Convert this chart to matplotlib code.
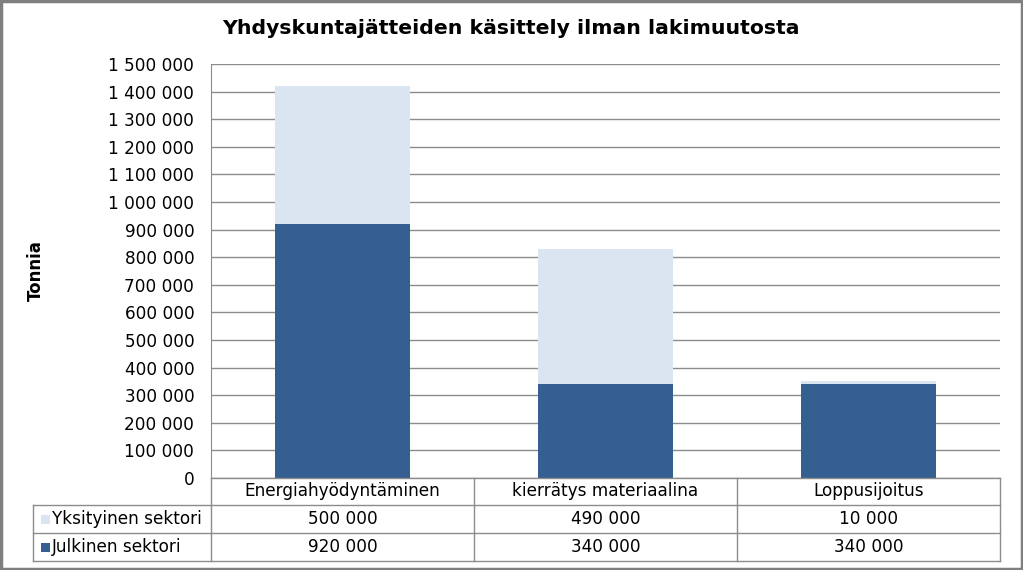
import matplotlib
matplotlib.use("Agg")
import matplotlib.pyplot as plt
from matplotlib.patches import Rectangle
from matplotlib.lines import Line2D
import matplotlib.transforms as mtransforms
from matplotlib.ticker import FuncFormatter, MultipleLocator

categories = ["Energiahyödyntäminen", "kierrätys materiaalina", "Loppusijoitus"]
julkinen = [920000, 340000, 340000]
yksityinen = [500000, 490000, 10000]
series_names = ["Yksityinen sektori", "Julkinen sektori"]
title = "Yhdyskuntajätteiden käsittely ilman lakimuutosta"
ylabel = "Tonnia"

dark = "#365F91"
light = "#DBE5F1"
grid = "#8C8C8C"
FS = 12.2

plt.rcParams['font.family'] = ['DejaVu Sans']
W, H = 1023, 570
fig = plt.figure(figsize=(W / 100, H / 100), dpi=100)

def fx(px):
    return px / W

def fy(py):
    return 1 - py / H

L, R, T, B = 211, 1000, 64, 478
ax = fig.add_axes([fx(L), fy(B), fx(R - L), (B - T) / H])

def fmt(v):
    return f"{int(v):,}".replace(",", " ")

x = list(range(len(categories)))
ax.bar(x, julkinen, width=0.51, color=dark, zorder=3)
ax.bar(x, yksityinen, bottom=julkinen, width=0.51, color=light, zorder=3)

ax.set_xlim(-0.5, len(categories) - 0.5)
ax.set_ylim(0, 1500000)
ax.yaxis.set_major_locator(MultipleLocator(100000))
ax.yaxis.set_major_formatter(FuncFormatter(lambda v, p: fmt(v)))
ax.grid(axis="y", color=grid, linewidth=1, zorder=0)
ax.set_xticks([])
ax.tick_params(axis="y", length=0, pad=12, labelsize=FS, colors="black")
for s in ["top", "right", "bottom"]:
    ax.spines[s].set_visible(False)
ax.spines["left"].set_color(grid)

fig.text(fx(511), fy(28), title, ha="center", va="center", fontsize=14.7, fontweight="bold")
fig.text(fx(36), fy(271), ylabel, ha="center", va="center", fontsize=12,
         fontweight="bold", rotation=90)

# data table
rows_y = [478, 505, 533, 561]
tl = 33
for yy in rows_y:
    x0 = L if yy == 478 else tl
    fig.add_artist(Line2D([fx(x0), fx(R)], [fy(yy), fy(yy)], color=grid, lw=1))
fig.add_artist(Line2D([fx(tl), fx(tl)], [fy(505), fy(561)], color=grid, lw=1))
trans = mtransforms.blended_transform_factory(ax.transData, fig.transFigure)
for b in [-0.5 + i for i in range(len(categories) + 1)]:
    ax.add_artist(Line2D([b, b], [fy(478), fy(561)], color=grid, lw=1,
                         transform=trans, clip_on=False))

for i, c in enumerate(categories):
    ax.text(i, fy(491.5), c, transform=trans, ha="center", va="center", fontsize=FS)
    ax.text(i, fy(519), fmt(yksityinen[i]), transform=trans, ha="center", va="center", fontsize=FS)
    ax.text(i, fy(547), fmt(julkinen[i]), transform=trans, ha="center", va="center", fontsize=FS)

for name, col, yc in [(series_names[0], light, 519.5), (series_names[1], dark, 547.5)]:
    fig.add_artist(Rectangle((fx(41), fy(yc + 4.5)), fx(9), 9 / H, color=col, lw=0))
    fig.text(fx(52), fy(yc), name, ha="left", va="center", fontsize=FS)

fig.add_artist(Rectangle((fx(1), fy(569)), fx(1021), 568 / H, fill=False,
                         edgecolor="#7F7F7F", lw=2.5))

fig.savefig("out.png", dpi=100)
